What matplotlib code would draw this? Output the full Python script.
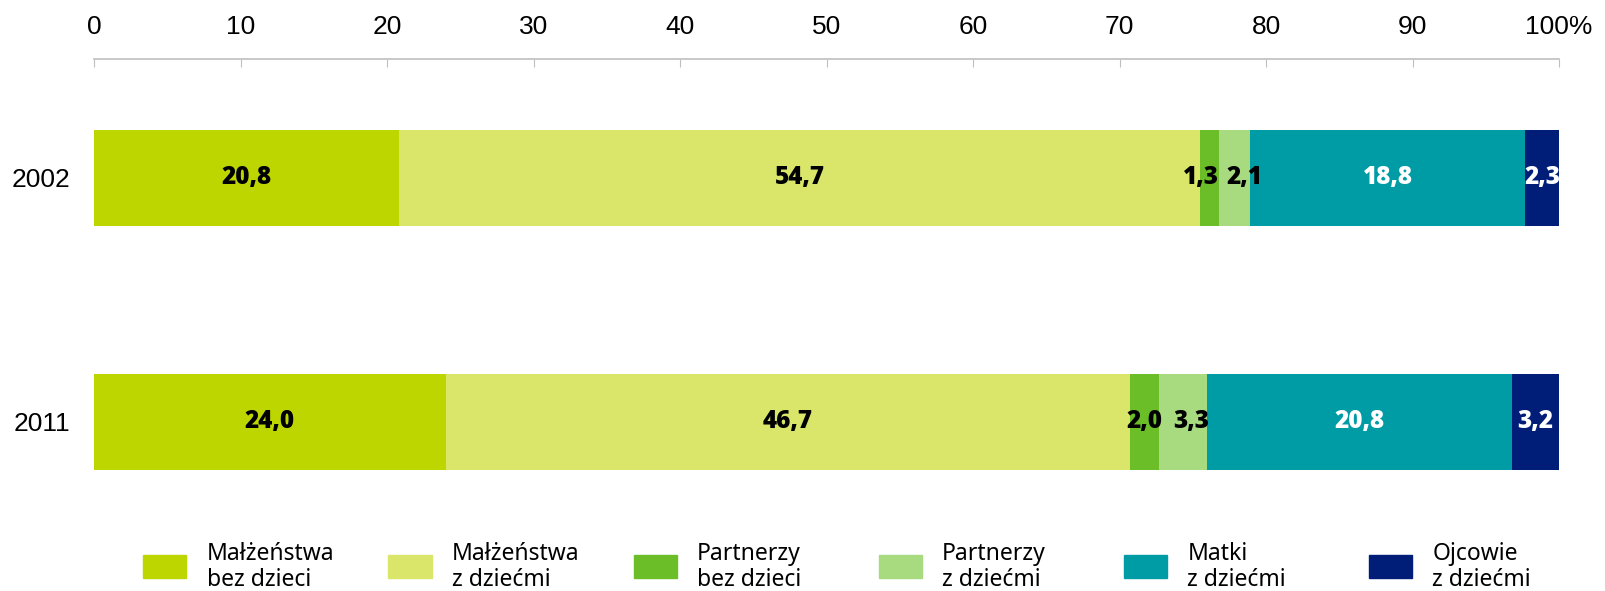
import numpy as np
import matplotlib
matplotlib.use('Agg')
from matplotlib import pyplot as plt
from matplotlib.patches import Rectangle

# data
years = ['2002', '2011']
categories = ['Małżeństwa\nbez dzieci', 'Małżeństwa\nz dziećmi', 'Partnerzy\nbez dzieci',
              'Partnerzy\nz dziećmi', 'Matki\nz dziećmi', 'Ojcowie\nz dziećmi']
values_2002 = [20.8, 54.7, 1.3, 2.1, 18.8, 2.3]
values_2011 = [24.0, 46.7, 2.0, 3.3, 20.8, 3.2]
labels_2002 = ['20,8', '54,7', '1,3', '2,1', '18,8', '2,3']
labels_2011 = ['24,0', '46,7', '2,0', '3,3', '20,8', '3,2']
colors = ['#BED600', '#D9E66A', '#6BBE28', '#A8DA80', '#009CA6', '#001E78']
text_colors = ['black', 'black', 'black', 'black', 'white', 'white']
xticks = [0, 10, 20, 30, 40, 50, 60, 70, 80, 90, 100]
xticklabels = ['0', '10', '20', '30', '40', '50', '60', '70', '80', '90', '100%']

# small label nudges (points) so the narrow segments don't collide
nudge = [[0, 0, -6, 7, 0, 0],
         [0, 0, 0, 6, 0, 0]]

W, H = 1606, 591
fig = plt.figure(figsize=(W / 100, H / 100), dpi=100)
ax = fig.add_axes([94.2 / W, 1 - 490 / H, (1559 - 94.2) / W, (490 - 59.4) / H])

vals = np.array([values_2002, values_2011])
labs = [labels_2002, labels_2011]
ypos = np.arange(len(years))
left = np.zeros(len(years))
for j in range(len(categories)):
    ax.barh(ypos, vals[:, j], left=left, height=0.393, color=colors[j], edgecolor='none')
    for i in range(len(years)):
        ax.annotate(labs[i][j], (left[i] + vals[i, j] / 2, ypos[i]),
                    xytext=(nudge[i][j], 0), textcoords='offset points',
                    ha='center', va='center', fontsize=17.5, fontweight='heavy',
                    color=text_colors[j], family='Open Sans')
    left += vals[:, j]

ax.set_xlim(0, 100)
ax.set_ylim(1.279, -0.486)
ax.xaxis.tick_top()
ax.set_xticks(xticks)
ax.set_xticklabels(xticklabels, family='Liberation Sans', fontsize=19)
ax.tick_params(axis='x', direction='in', length=6, color='#BFBFBF', pad=15)
ax.set_yticks(ypos)
ax.set_yticklabels(years, family='Liberation Sans', fontsize=19)
ax.tick_params(axis='y', length=0, pad=17)
for s in ['left', 'right', 'bottom']:
    ax.spines[s].set_visible(False)
ax.spines['top'].set_color('#BFBFBF')
ax.spines['top'].set_linewidth(1.2)

# legend drawn by hand in fixed columns
for k in range(len(categories)):
    x0 = 143.4 + k * 245.1
    fig.patches.append(Rectangle((x0 / W, 1 - 577.5 / H), 43 / W, 22.5 / H,
                                 transform=fig.transFigure, color=colors[k]))
    fig.text((x0 + 63.5) / W, 1 - 567 / H, categories[k], ha='left', va='center',
             fontsize=16.5, family='Noto Sans', linespacing=1.1)

fig.savefig('out.png', dpi=100)
